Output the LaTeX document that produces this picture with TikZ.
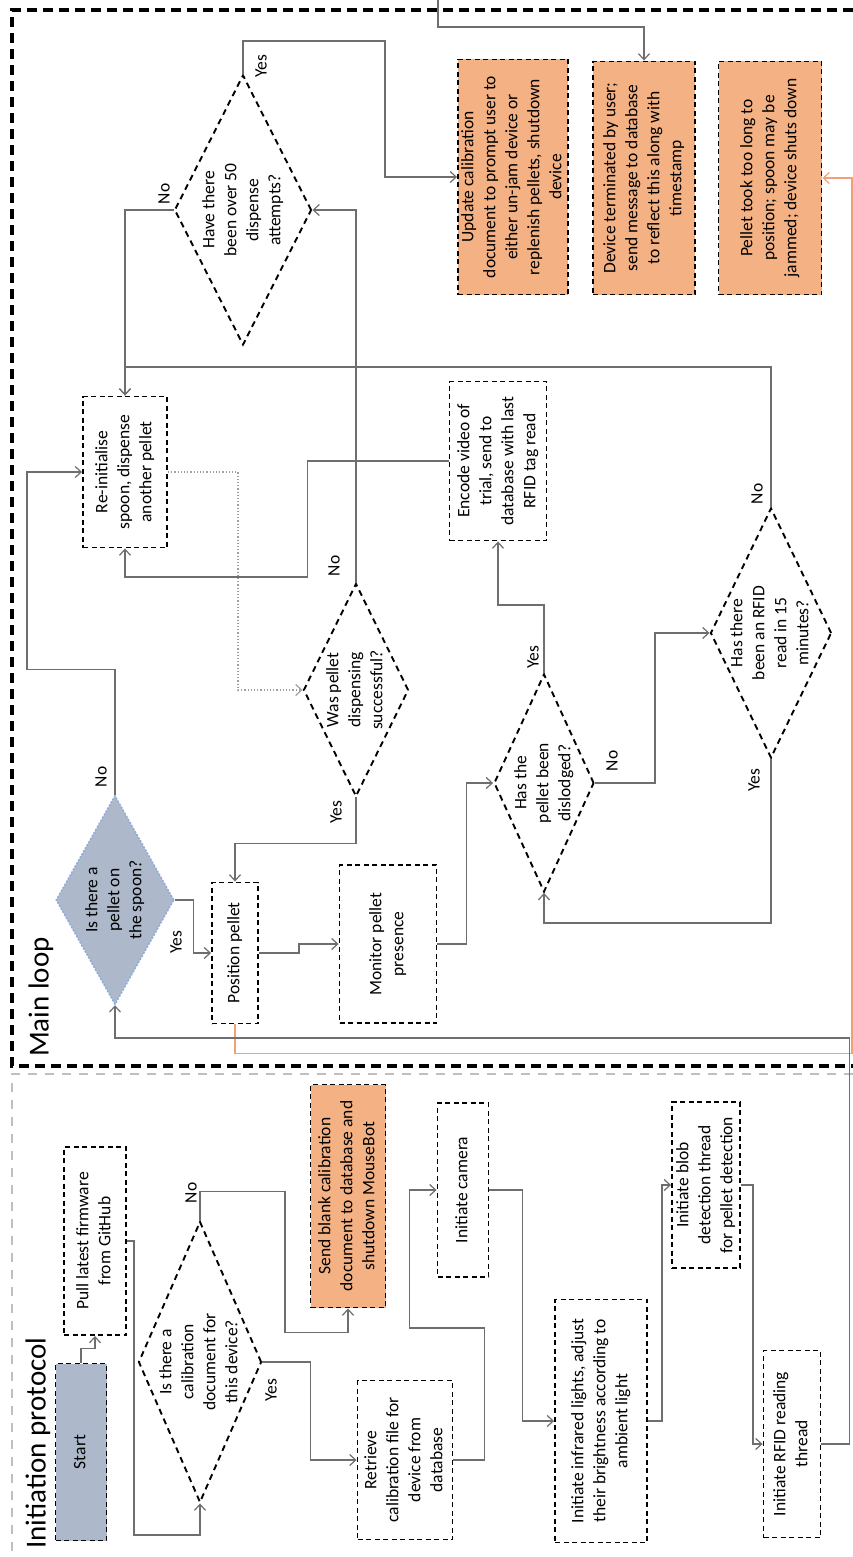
\documentclass[tikz,border=0pt]{standalone}
\usepackage{fontspec}
\setmainfont{Carlito}
\usepackage{graphicx}
\usepackage{tikz}
\usetikzlibrary{arrows.meta,shapes.geometric,positioning}
\definecolor{stopfill}{RGB}{244,177,131}
\definecolor{startfill}{RGB}{173,185,202}
\definecolor{spoonedge}{RGB}{143,170,220}
\definecolor{linegray}{RGB}{110,110,110}
\definecolor{dotgray}{RGB}{160,160,160}
\definecolor{timeoutorange}{RGB}{243,160,118}
\definecolor{framegray}{RGB}{191,191,191}
\newcommand{\rottext}[1]{\rotatebox{90}{\begin{tabular}{@{}c@{}}#1\end{tabular}}}
\tikzstyle{procbox} = [draw=black, line width=1.9pt, dash pattern=on 5pt off 3.5pt, inner sep=0pt, font=\fontsize{17.5}{22}\selectfont]
\tikzstyle{stopbox} = [procbox, fill=stopfill]
\tikzstyle{startbox} = [procbox, fill=startfill]
\tikzstyle{decision} = [diamond, aspect=0.5, draw=black, line width=1.9pt, dash pattern=on 6pt off 4.5pt, inner sep=-10pt, font=\fontsize{17.5}{22}\selectfont]
\tikzstyle{spoondec} = [decision, fill=startfill, draw=spoonedge, line width=1.5pt, dash pattern=on 2pt off 1.5pt]
\tikzstyle{flowline} = [draw=linegray, line width=1.2pt, ->]
\tikzstyle{timeoutline} = [draw=timeoutorange, line width=1.2pt, ->]
\tikzstyle{trialline} = [draw=dotgray, line width=1.2pt, dotted, ->]
\tikzstyle{lbl} = [rotate=90, inner sep=0pt, font=\fontsize{17.5}{22}\selectfont]
\tikzstyle{sectitle} = [rotate=90, inner sep=0pt, font=\fontsize{29}{34}\selectfont]

\begin{document}
\begin{tikzpicture}[x=1pt, y=-1pt, >={Straight Barb[length=6pt,width=11pt]}]
\useasboundingbox[fill=white] (0,0) rectangle (853,1557);

% Section frames
\draw[line width=3.2pt, dash pattern=on 10pt off 6pt] (853,10) -- (12,10) -- (12,1066) -- (853,1066);
\draw[framegray, line width=2pt, dash pattern=on 9pt off 8pt] (853,1074) -- (12,1074) -- (12,1557);
\node[sectitle] (mainloop) at (41,997) {Main loop};
\node[sectitle] (initprot) at (38,1443) {Initiation protocol};

% Main loop: decisions
\node[decision, minimum width=137pt, minimum height=270pt] (attempts) at (243,210) {\rottext{Have there\\been over 50\\dispense\\attempts?}};
\node[decision, minimum width=105pt, minimum height=213pt] (dispensed) at (356,690) {\rottext{Was pellet\\dispensing\\successful?}};
\node[spoondec, minimum width=118pt, minimum height=209pt] (spoon) at (115,900) {\rottext{Is there a\\pellet on\\the spoon?}};
\node[decision, minimum width=100pt, minimum height=218pt] (dislodged) at (544,783) {\rottext{Has the\\pellet been\\dislodged?}};
\node[decision, minimum width=121pt, minimum height=250pt] (rfidread) at (771,633) {\rottext{Has there\\been an RFID\\read in 15\\minutes?}};

% Main loop: processes
\node[procbox, minimum width=84pt, minimum height=151pt] (reinit) at (125,472) {\rottext{Re-initialise\\spoon, dispense\\another pellet}};
\node[procbox, minimum width=46pt, minimum height=141pt] (position) at (235,953) {\rottext{Position pellet}};
\node[procbox, minimum width=97pt, minimum height=158pt] (monitor) at (388,944) {\rottext{Monitor pellet\\presence}};
\node[procbox, minimum width=97pt, minimum height=159pt] (encode) at (498,461) {\rottext{Encode video of\\trial, send to\\database with last\\RFID tag read}};

% Main loop: shutdown states
\node[stopbox, minimum width=110pt, minimum height=235pt] (recal) at (513,177) {\rottext{Update calibration\\document to prompt user to\\either un-jam device or\\replenish pellets, shutdown\\device}};
\node[stopbox, minimum width=102pt, minimum height=233pt] (terminated) at (644,178) {\rottext{Device terminated by user;\\send message to database\\to reflect this along with\\timestamp}};
\node[stopbox, minimum width=103pt, minimum height=233pt] (timeout) at (770,178) {\rottext{Pellet took too long to\\position; spoon may be\\jammed; device shuts down}};
\coordinate (userstop) at (438,0);

% Initiation protocol
\node[startbox, minimum width=51pt, minimum height=177pt] (start) at (81,1452) {\rottext{Start}};
\node[procbox, minimum width=62pt, minimum height=188pt] (firmware) at (95,1241) {\rottext{Pull latest firmware\\from GitHub}};
\node[decision, minimum width=123pt, minimum height=281pt] (hascal) at (200,1362) {\rottext{Is there a\\calibration\\document for\\this device?}};
\node[stopbox, minimum width=75pt, minimum height=223pt] (sendblank) at (348,1196) {\rottext{Send blank calibration\\document to database and\\shutdown MouseBot}};
\node[procbox, minimum width=95pt, minimum height=159pt] (retrieve) at (405,1460) {\rottext{Retrieve\\calibration file for\\device from\\database}};
\node[procbox, minimum width=51pt, minimum height=174pt] (camera) at (463,1190) {\rottext{Initiate camera}};
\node[procbox, minimum width=92pt, minimum height=243pt] (infrared) at (601,1421) {\rottext{Initiate infrared lights, adjust\\their brightness according to\\ambient light}};
\node[procbox, minimum width=68pt, minimum height=166pt] (blob) at (706,1185) {\rottext{Initiate blob\\detection thread\\for pellet detection}};
\node[procbox, minimum width=57pt, minimum height=187pt] (rfidthread) at (792,1444) {\rottext{Initiate RFID reading\\thread}};

% Connectors, main loop
\draw[flowline] (attempts.north) -- ++(0,-33) -- ++(142,0) |- (recal.west);
\draw[flowline] (attempts.west) -| (reinit.north);
\draw[flowline] (userstop) -- ++(0,27) -| (terminated.north);
\draw[flowline] (dispensed.north) |- (attempts.east);
\draw[flowline] (encode.west) -- ++(-141,0) -- ++(0,116) -| (reinit.south);
\draw[flowline] (rfidread.north) -- ++(0,-140) -| (reinit.north);
\draw[trialline] (reinit.east) -- ++(70,0) |- (dispensed.west);
\draw[flowline] (spoon.north) -- ++(0,-125) -- ++(-88,0) |- (reinit.west);
\draw[flowline] (dispensed.south) -- ++(0,46) -| (position.north);
\draw[flowline] (spoon.east) -- ++(19,0) |- (position.west);
\draw[flowline] (position.east) -- ++(40,0) |- (monitor.west);
\draw[flowline] (monitor.east) -- ++(29,0) |- (dislodged.west);
\draw[flowline] (dislodged.north) -- ++(0,-68) -| (encode.south);
\draw[flowline] (dislodged.east) -- ++(60,0) |- (rfidread.west);
\draw[flowline] (rfidread.south) -- ++(0,164) -| (dislodged.south);
\draw[timeoutline] (position.south) -- ++(0,29) -- ++(617,0) |- (timeout.east);
\draw[flowline] (rfidthread.east) -- ++(28,0) -- ++(0,-406) -| (spoon.south);

% Connectors, initiation
\draw[flowline] (start.north) -- ++(0,-14) -| (firmware.south);
\draw[flowline] (firmware.east) -- ++(7,0) -- ++(0,294) -| (hascal.south);
\draw[flowline] (hascal.north) -- ++(0,-29) -- ++(85,0) -- ++(0,141) -| (sendblank.south);
\draw[flowline] (hascal.east) -- ++(48,0) |- (retrieve.west);
\draw[flowline] (retrieve.east) -- ++(31,0) -- ++(0,-132) -- ++(-75,0) |- (camera.west);
\draw[flowline] (camera.east) -- ++(33,0) |- (infrared.west);
\draw[flowline] (infrared.east) -- ++(14,0) |- (blob.west);
\draw[flowline] (blob.east) -- ++(12,0) |- (rfidthread.west);

% Yes / No labels
\node[lbl] (attemptsyes) at (261,66) {Yes};
\node[lbl] (attemptsno) at (164,194) {No};
\node[lbl] (dispensedno) at (334,566) {No};
\node[lbl] (dispensedyes) at (336,812) {Yes};
\node[lbl] (spoonno) at (101,777) {No};
\node[lbl] (spoonyes) at (176,942) {Yes};
\node[lbl] (dislodgedyes) at (533,657) {Yes};
\node[lbl] (dislodgedno) at (612,761) {No};
\node[lbl] (rfidreadno) at (757,494) {No};
\node[lbl] (rfidreadyes) at (754,780) {Yes};
\node[lbl] (hascalno) at (191,1193) {No};
\node[lbl] (hascalyes) at (271,1390) {Yes};
\end{tikzpicture}
\end{document}
